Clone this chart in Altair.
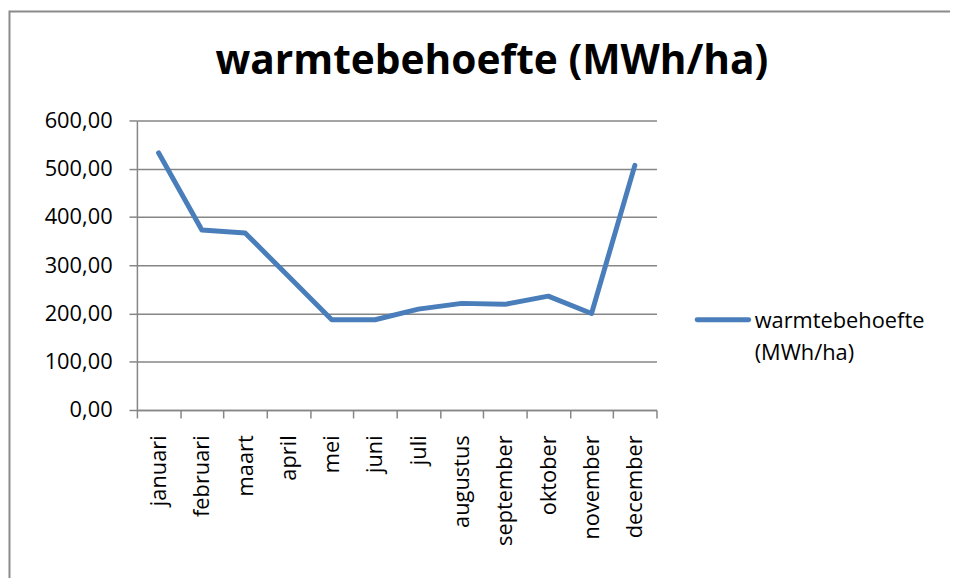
import altair as alt
import pandas as pd

months = ["januari", "februari", "maart", "april", "mei", "juni", "juli",
          "augustus", "september", "oktober", "november", "december"]
values = [533, 373, 367, 277, 187, 187, 209, 221, 219, 236, 200, 507]
series_name = "warmtebehoefte (MWh/ha)"
y_ticks = [0, 100, 200, 300, 400, 500, 600]

df = pd.DataFrame({
    "idx": list(range(len(months))),
    "maand": months,
    "waarde": values,
    "reeks": [series_name] * len(months),
})

FONT = "Open Sans"
GRAY = "#868686"
BLUE = "#4A7EBB"
W, H = 524, 292
n = len(months)
step = W / n

month_js = "[" + ",".join("'" + m + "'" for m in months) + "]"
x_tick_values = [i - 0.5 for i in range(n + 1)]

line = alt.Chart(df).mark_line(strokeWidth=5, strokeCap="round", strokeJoin="round").encode(
    x=alt.X("idx:Q",
            scale=alt.Scale(domain=[-0.5, n - 0.5], nice=False, zero=False),
            axis=alt.Axis(values=x_tick_values,
                          labelExpr=f"datum.value > {n - 1} ? '' : {month_js}[round(datum.value + 0.5)]",
                          labelAngle=-90, labelOffset=step / 2, labelOverlap=False,
                          labelPadding=17, tickSize=8, grid=False, title=None,
                          labelFont=FONT, labelFontSize=22, labelColor="#000000",
                          domainColor=GRAY, tickColor=GRAY, domainWidth=1.5, tickWidth=1.5,
                          labelBound=False, labelFlush=False)),
    y=alt.Y("waarde:Q",
            scale=alt.Scale(domain=[0, 600], nice=False),
            axis=alt.Axis(values=y_ticks,
                          labelExpr="replace(format(datum.value, '.2f'), '.', ',')",
                          tickSize=8, labelPadding=17, title=None,
                          labelFont=FONT, labelFontSize=22, labelColor="#000000",
                          grid=True, gridColor=GRAY, gridWidth=1.5,
                          domainColor=GRAY, tickColor=GRAY, domainWidth=1.5, tickWidth=1.5,
                          labelFlush=False, labelBound=False)),
    color=alt.Color("reeks:N", scale=alt.Scale(range=[BLUE]), legend=None),
)

# legend (drawn as a small layer: symbol line + two-line label)
legend_df = pd.DataFrame({"reeks": [series_name]})
legend_symbol = alt.Chart(legend_df).mark_rule(strokeWidth=5, strokeCap="round").encode(
    x=alt.value(565), x2=alt.value(617), y=alt.value(201),
    color=alt.Color("reeks:N", scale=alt.Scale(range=[BLUE]), legend=None),
)
legend_text = alt.Chart(legend_df).mark_text(
    text=series_name.split(" "), align="left", baseline="alphabetic",
    lineHeight=33, font=FONT, fontSize=22, color="#000000"
).encode(x=alt.value(623), y=alt.value(209))

border = alt.Chart(pd.DataFrame({"k": [0]})).mark_rect(
    fillOpacity=0, stroke="#8a8a8a", strokeWidth=2
).encode(
    x=alt.value(-128.5), x2=alt.value(900),
    y=alt.value(-110), y2=alt.value(600),
)

chart = alt.layer(border, line, legend_symbol, legend_text).properties(
    width=W, height=H,
    title=alt.TitleParams(series_name, font=FONT, fontSize=41, fontWeight="bold",
                          color="#000000", anchor="middle", dx=96, offset=0,
                          baseline="alphabetic", dy=105),
    autosize=alt.AutoSizeParams(type="none"),
    padding={"left": 130, "top": 111, "right": 296, "bottom": 167},
).configure_view(stroke=None)

chart.save("out.html", embed_options={"renderer": "svg", "actions": False})
